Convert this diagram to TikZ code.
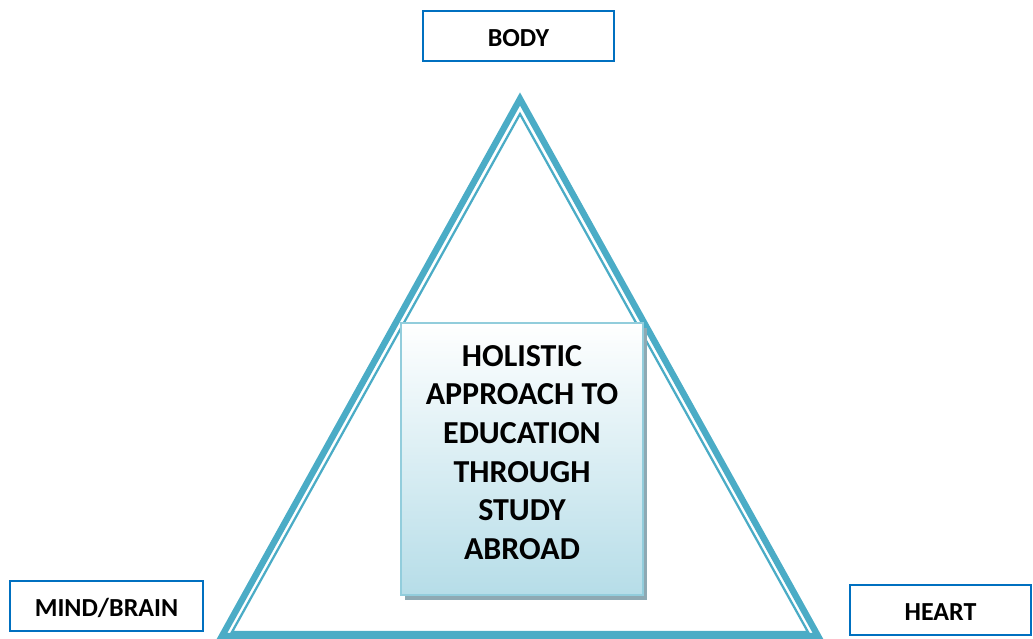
\documentclass[tikz,border=0pt]{standalone}
\usepackage{fontspec}
\setmainfont{Carlito}
\usetikzlibrary{shadows}

\definecolor{trianglecol}{HTML}{4BACC6}
\definecolor{labelcol}{HTML}{0070C0}
\definecolor{coreedge}{HTML}{92CDDC}
\definecolor{corefill}{HTML}{B6DDE8}
\definecolor{coreshadow}{HTML}{8EA9B3}

\tikzset{
  label box/.style={draw=labelcol, line width=1.5pt, fill=white, minimum height=37.5pt,
    font=\fontsize{19.5}{23}\selectfont\bfseries, inner sep=0pt, text height=16pt, text depth=0pt},
  outer edge/.style={draw=trianglecol, line width=4.8pt, line join=miter},
  inner edge/.style={draw=trianglecol, line width=1.7pt, line join=miter},
  core box/.style={draw=coreedge, line width=1.5pt, top color=white, bottom color=corefill,
    minimum width=181.5pt, minimum height=204pt, align=center, text depth=9pt,
    font=\fontsize{24}{29}\selectfont\bfseries,
    drop shadow={shadow xshift=3pt, shadow yshift=-4pt, fill=coreshadow, opacity=1}}
}

\begin{document}
\begin{tikzpicture}[x=0.75pt, y=-0.75pt]
  \useasboundingbox (0,0) rectangle (1033,639);
  % triangle corners
  \coordinate (t1) at (520,99);
  \coordinate (l1) at (222,636);
  \coordinate (r1) at (818,636);
  \coordinate (t2) at (520,114);
  \coordinate (l2) at (232,632);
  \coordinate (r2) at (808,632);
  \draw[outer edge] (t1) -- (l1) -- (r1) -- cycle;
  \draw[inner edge] (t2) -- (l2) -- (r2) -- cycle;

  \node[label box, minimum width=143.25pt] (body) at (518.5,36) {BODY};
  \node[label box, minimum width=144.75pt] (mind) at (106.5,606) {MIND/BRAIN};
  \node[label box, minimum width=135.75pt] (heart) at (940.5,610) {HEART};

  \node[core box] (core) at (522,458.5) {HOLISTIC\\APPROACH TO\\EDUCATION\\THROUGH\\STUDY\\ABROAD};
\end{tikzpicture}
\end{document}
